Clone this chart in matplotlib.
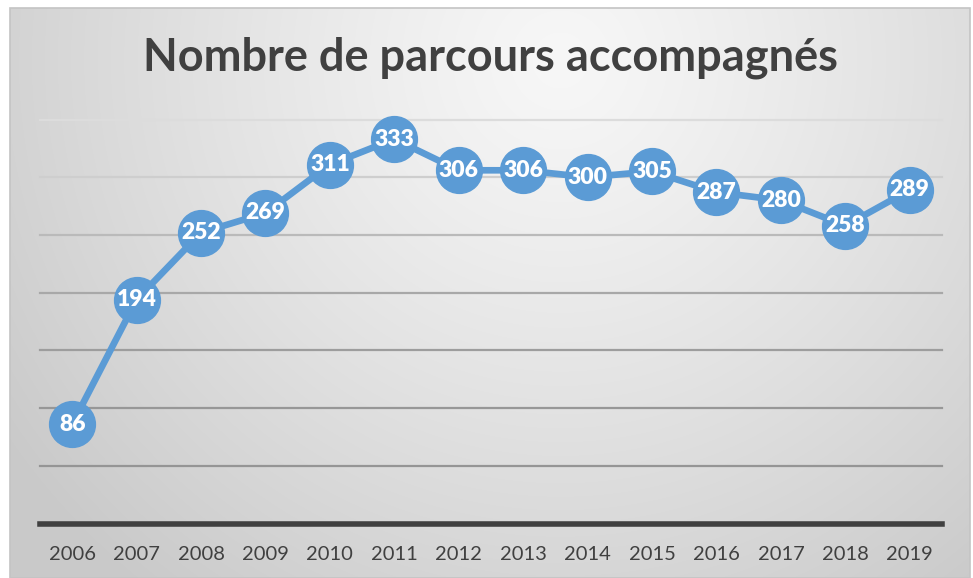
import numpy as np
import matplotlib
matplotlib.use("Agg")
import matplotlib.pyplot as plt
from matplotlib.patches import Rectangle

years = ["2006", "2007", "2008", "2009", "2010", "2011", "2012",
         "2013", "2014", "2015", "2016", "2017", "2018", "2019"]
parcours = [86, 194, 252, 269, 311, 333, 306, 306, 300, 305, 287, 280, 258, 289]
title = "Nombre de parcours accompagnés"
grid_levels = [50, 100, 150, 200, 250, 300, 350]

W, H = 973, 578
fig = plt.figure(figsize=(W / 100, H / 100), dpi=100)
fig.patch.set_facecolor("white")

# chart-area background with radial gradient
x0, y0, x1, y1 = 10, 8, 970, 578
bg = fig.add_axes([x0 / W, 1 - y1 / H, (x1 - x0) / W, (y1 - y0) / H], zorder=0)
gx = np.arange(x0, x1)
gy = np.arange(y0, y1)
X, Y = np.meshgrid(gx, gy)
d = np.sqrt(((X - 560) / 1.0) ** 2 + ((Y - 60) / 1.0) ** 2)
c = 247 - 46 * np.clip(d / 680, 0, 1) ** 1.2
img = np.dstack([c, c, c]) / 255.0
bg.imshow(img, aspect="auto", extent=[0, 1, 0, 1], interpolation="bilinear")
bg.set_xlim(0, 1)
bg.set_ylim(0, 1)
bg.axis("off")
bg.add_patch(Rectangle((0, 0), 1, 1, transform=bg.transAxes, fill=False,
                       edgecolor="#c4c4c4", lw=1.2, clip_on=False))

# plot axes
top_px, bot_px = 119.5, 523.5
ax = fig.add_axes([40 / W, 1 - bot_px / H, (942 - 40) / W, (bot_px - top_px) / H], zorder=1)
ax.patch.set_alpha(0)
x = np.arange(len(years))
ax.set_xlim(-0.5, len(years) - 0.5)
ax.set_ylim(0, 350)

grid_colors = ["#959595", "#979797", "#9d9d9d", "#a8a8a8", "#bababa", "#cecece", "#dcdcdc"]
for lvl, col in zip(grid_levels, grid_colors):
    ax.axhline(lvl, color=col, lw=1.6, zorder=1, clip_on=False)

ax.plot(x, parcours, color="#5b9bd5", lw=4.8, marker="o", markersize=33,
        markerfacecolor="#5b9bd5", markeredgecolor="#5b9bd5", zorder=3, clip_on=False)
for xi, v in zip(x, parcours):
    ax.text(xi, v, str(v), ha="center", va="center", color="white",
            fontsize=16.5, fontweight="heavy", family="Lato", zorder=4)

for s in ["top", "right", "left"]:
    ax.spines[s].set_visible(False)
ax.spines["bottom"].set_color("#404040")
ax.spines["bottom"].set_linewidth(4)
ax.set_yticks([])
ax.set_xticks(x)
ax.set_xticklabels(years, fontsize=14.5, color="#404040", family="Lato")
ax.tick_params(axis="x", length=0, pad=16)

fig.text(0.5 * (148 + 833) / W, 1 - 58 / H, title, ha="center", va="center",
         fontsize=32.5, fontweight="bold", color="#404040", family="Lato")

fig.savefig("out.png", dpi=100)
